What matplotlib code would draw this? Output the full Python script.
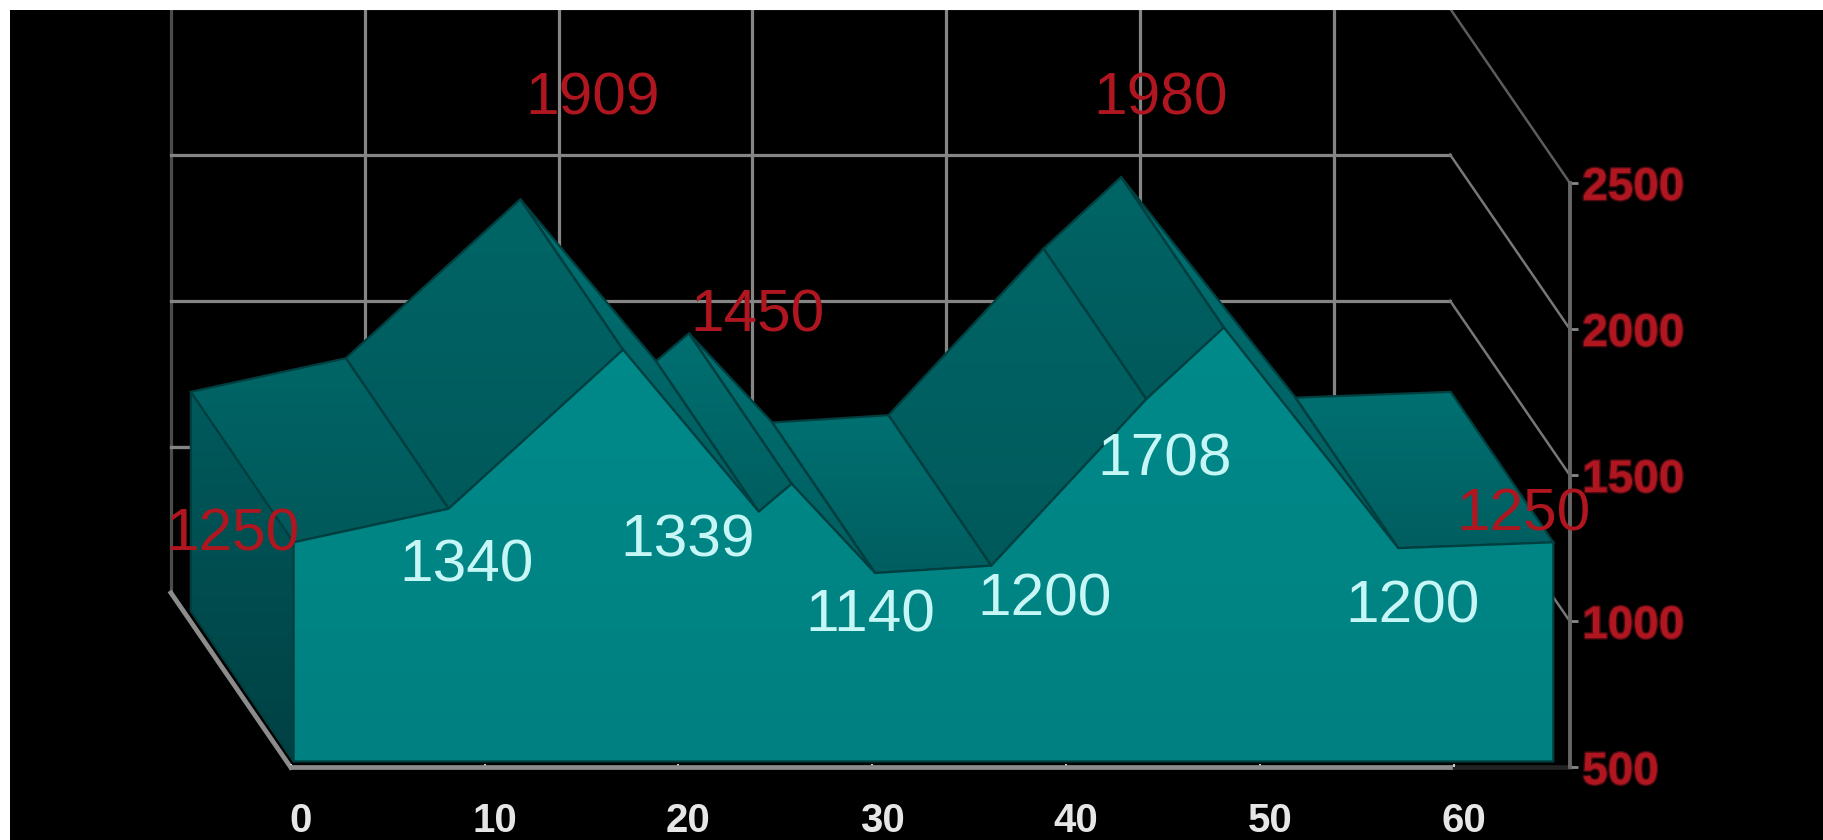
import numpy as np
import matplotlib
matplotlib.use("Agg")
import matplotlib.pyplot as plt
import matplotlib.patheffects as pe
from matplotlib.colors import LinearSegmentedColormap
from matplotlib.patches import Polygon, Rectangle
from matplotlib.transforms import ScaledTranslation

plt.rcParams["font.family"] = ["Liberation Sans", "DejaVu Sans"]

# area vertices
vertex_x = [0, 8, 17, 24, 25.7, 30, 36, 44, 48, 57, 65]
vertex_v = [1250, 1365, 1909, 1355, 1450, 1145, 1170, 1740, 1985, 1230, 1250]

x_ticks = [0, 10, 20, 30, 40, 50, 60]
y_ticks = [500, 1000, 1500, 2000, 2500]

point_labels = ["1250", "1340", "1909", "1339", "1450", "1140", "1200", "1708", "1980", "1200", "1250"]
label_red = [True, False, True, False, True, False, False, False, True, False, True]
label_x = [-3.0, 9.1, 15.6, 20.5, 24.1, 29.9, 38.9, 45.1, 44.9, 57.9, 63.6]
label_y = [1296, 1188, 2788, 1276, 2044, 1017, 1073, 1550, 2788, 1049, 1363]

# fake 3d: how far the back wall and the back of the area are shifted
wall_dx, wall_dv = -6.18, 597
area_dx, area_dv = -5.3, 515
area_shift_x, area_shift_v = 0.15, 20
x_end = 66

W, H = 1823, 840
fig = plt.figure(figsize=(W / 100, H / 100), dpi=100, facecolor="black")
ax = fig.add_axes([290.7 / W, (H - 767.3) / H, (1569.8 - 290.7) / W, (767.3 - 182.9) / H])
ax.set_facecolor("black")


def shaded(pts, top, bottom, z, edge="#003f40"):
    pts = np.array(pts)
    outline = Polygon(pts, closed=True, fc="none", ec=edge, lw=1.6, zorder=z + 0.1, clip_on=False)
    ax.add_patch(outline)
    cmap = LinearSegmentedColormap.from_list("face", [top, bottom])
    im = ax.imshow(np.linspace(0, 1, 64)[:, None], extent=(pts[:, 0].min(), pts[:, 0].max(), pts[:, 1].min(), pts[:, 1].max()),
                   origin="upper", aspect="auto", cmap=cmap, interpolation="bilinear", zorder=z)
    im.set_clip_box(fig.bbox)
    im.set_clip_path(outline)


# back wall grid
grid = dict(color="#858585", lw=2.3, clip_on=False, zorder=1)
top_v = 2500 + wall_dv
for t in x_ticks[1:]:
    ax.plot([t + wall_dx] * 2, [500 + wall_dv, top_v], **grid)
ax.plot([wall_dx, wall_dx], [500 + wall_dv, top_v], color="#4c4c4c", lw=2.3, clip_on=False, zorder=1)
ax.plot([wall_dx, wall_dx + 1.0], [1000 + wall_dv] * 2, color="#666666", lw=2.3, clip_on=False, zorder=1)
for v in y_ticks[1:]:
    ax.plot([wall_dx, x_end + wall_dx], [v + wall_dv] * 2, **grid)
    ax.plot([x_end + wall_dx, x_end], [v + wall_dv, v], color="#5c5c5c" if v == 2500 else "#777777", lw=1.8, clip_on=False, zorder=1)
ax.plot([0, wall_dx], [500, 500 + wall_dv], color="#8c8c8c", lw=3.4, clip_on=False, zorder=1)
ax.plot([59.8, x_end], [500, 500], color="#222222", lw=3.4, clip_on=False, zorder=1)

# area: left wall, top faces, front
fx = np.array(vertex_x) + area_shift_x
fv = np.array(vertex_v) + area_shift_v
base = 500 + area_shift_v
shaded([(fx[0], fv[0]), (fx[0] + area_dx, fv[0] + area_dv), (fx[0] + area_dx, base + area_dv), (fx[0], base)],
       "#005a5c", "#004144", 3)
for i in range(len(fx) - 1):
    face = [(fx[i], fv[i]), (fx[i + 1], fv[i + 1]), (fx[i + 1] + area_dx, fv[i + 1] + area_dv), (fx[i] + area_dx, fv[i] + area_dv)]
    if fv[i + 1] > fv[i] + 100:
        shaded(face, "#006566", "#00595b", 3.2)
    else:
        shaded(face, "#007071", "#005e60", 3.2)
shaded(list(zip(fx, fv)) + [(fx[-1], base), (fx[0], base)], "#008a8a", "#008080", 3.5)

for x, y, s, red in zip(label_x, label_y, point_labels, label_red):
    ax.text(x, y, s, ha="center", va="center", fontsize=43.5, zorder=6,
            color="#b0161f" if red else "#c6f6f6")

for name in ["top", "left"]:
    ax.spines[name].set_visible(False)
ax.spines["right"].set_color("#666666")
ax.spines["right"].set_linewidth(2.8)
ax.spines["bottom"].set_color("#8c8c8c")
ax.spines["bottom"].set_linewidth(3.4)
ax.spines["bottom"].set_bounds(0, 59.8)
ax.spines["bottom"].set_zorder(4)

ax.set_xticks(x_ticks)
ax.set_yticks(y_ticks)
ax.yaxis.tick_right()
ax.tick_params(axis="x", colors="#cccccc", length=2, width=1.5, direction="in", pad=25, labelsize=29, labelcolor="#e6e6e6")
ax.tick_params(axis="y", colors="#888888", length=6, width=2, pad=3, labelsize=33, labelcolor="#b0161f")
shift = ScaledTranslation(10 / 100, 0, fig.dpi_scale_trans)
for lab in ax.get_xticklabels():
    lab.set_fontweight("bold")
    lab.set_transform(lab.get_transform() + shift)
for lab in ax.get_yticklabels():
    lab.set_fontweight("bold")
    lab.set_path_effects([pe.withStroke(linewidth=2, foreground="#4a0a10")])

ax.set_xlim(0, x_end)
ax.set_ylim(500, 2500)

# white strips along the top and left of the picture
fig.add_artist(Rectangle((0, (H - 10) / H), 1, 10 / H, transform=fig.transFigure, fc="white", ec="none", zorder=5))
fig.add_artist(Rectangle((0, 0), 10 / W, 1, transform=fig.transFigure, fc="white", ec="none", zorder=5))

fig.savefig("out.png", dpi=100, facecolor=fig.get_facecolor())
